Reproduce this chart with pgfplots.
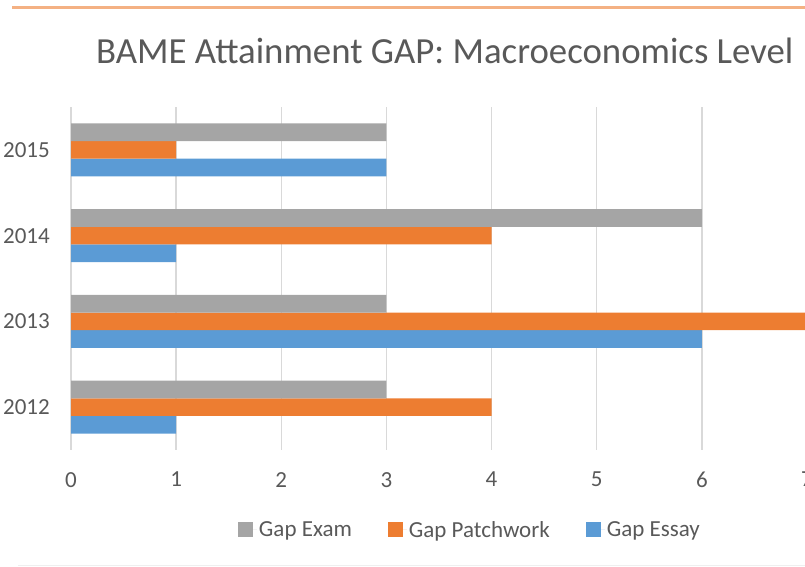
\documentclass[border=0pt]{standalone}
\usepackage{fontspec}
\setmainfont{Carlito}
\usepackage{pgfplots}
\pgfplotsset{compat=1.18}

\definecolor{essay}{HTML}{5B9BD5}
\definecolor{patch}{HTML}{ED7D31}
\definecolor{exam}{HTML}{A5A5A5}
\definecolor{txt}{HTML}{595959}
\definecolor{gridc}{HTML}{D9D9D9}
\definecolor{topline}{HTML}{F4B183}
\definecolor{botline}{HTML}{EFEFEF}

\begin{document}
\begin{tikzpicture}[x=1bp,y=1bp]
    % frame lines of the cropped screenshot
    \draw[topline, line width=3bp] (12,559) -- (805,559);
    \draw[botline, line width=1.5bp] (18,1.5) -- (805,1.5);

    \node[anchor=base west, inner sep=0pt, text=txt, font=\fontsize{36.8bp}{40bp}\selectfont]
        at (96,503) {BAME Attainment GAP: Macroeconomics Level};

    \begin{axis}[
        at={(71bp,117bp)}, anchor=south west,
        scale only axis,
        width=736bp, height=343bp,
        xmin=0, xmax=7,
        ymin=-0.5, ymax=3.5,
        xbar=0pt,
        bar width=17.7bp,
        axis line style={draw=none},
        major tick length=0pt,
        xtick={0,1,2,3,4,5,6,7},
        ytick={0,1,2,3},
        yticklabels={2012,2013,2014,2015},
        xmajorgrids,
        grid style={gridc, line width=1.3bp},
        tick label style={text=txt, font=\fontsize{23bp}{27bp}\selectfont},
        /pgf/number format/assume math mode=true,
        xticklabel style={inner sep=0pt, anchor=north, yshift=-22bp},
        yticklabel style={inner sep=0pt, anchor=east, xshift=-21bp},
        reverse legend,
        legend columns=3,
        legend style={
            at={(0.542,-0.233)}, anchor=center,
            draw=none, fill=none,
            text=txt, font=\fontsize{23bp}{27bp}\selectfont,
            /tikz/every even column/.append style={column sep=34bp},
        },
        legend image code/.code={
            \fill[#1] (0bp,-7.5bp) rectangle (15bp,7.5bp);
            \path (0bp,0bp) -- (19bp,0bp);
        },
    ]
        \addplot[fill=essay, draw=none] coordinates {(1,0) (6,1) (1,2) (3,3)};
        \addplot[fill=patch, draw=none] coordinates {(4,0) (7,1) (4,2) (1,3)};
        \addplot[fill=exam, draw=none] coordinates {(3,0) (3,1) (6,2) (3,3)};
        \legend{Gap Essay, Gap Patchwork, Gap Exam}
    \end{axis}

    \pgfresetboundingbox
    \useasboundingbox (0,0) rectangle (805,567);
\end{tikzpicture}
\end{document}
